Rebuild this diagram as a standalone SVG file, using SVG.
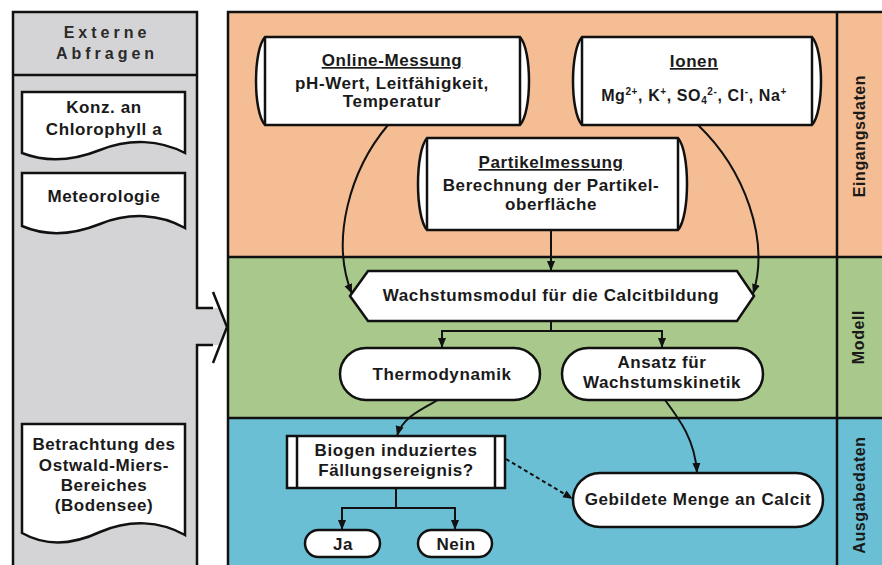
<svg xmlns="http://www.w3.org/2000/svg" width="882" height="565" viewBox="0 0 882 565">
<defs>
<style>
.node{fill:#fff;stroke:#111;stroke-width:2.5}
.ln{fill:none;stroke:#111;stroke-width:2.5}
.conn{fill:none;stroke:#111;stroke-width:2}
.t{font-family:"Liberation Sans",Arial,sans-serif;font-weight:bold;font-size:17px;letter-spacing:0.6px;fill:#1a1a1a;text-anchor:middle}
.lab{font-family:"Liberation Sans",Arial,sans-serif;font-weight:bold;font-size:16px;letter-spacing:0.6px;fill:#1a1a1a;text-anchor:middle}
.hdr{font-family:"Liberation Sans",Arial,sans-serif;font-weight:bold;font-size:16px;letter-spacing:4px;fill:#2a2a2a;text-anchor:middle}
.u{text-decoration:underline}
.sup{font-size:10px}
</style>
<marker id="ah" viewBox="0 0 10 10" refX="10" refY="5" markerWidth="10" markerHeight="10" markerUnits="userSpaceOnUse" orient="auto">
<path d="M0,1 L10,5 L0,9 Z" fill="#111"/>
</marker>
</defs>
<rect x="0" y="0" width="882" height="565" fill="#fff"/>

<g id="left-panel">
<rect x="13" y="12" width="184" height="560" fill="#d4d4d6"/>
<polygon points="197,308 219.4,308 227,327 219.4,345 197,345" fill="#d4d4d6"/>
<path class="ln" d="M13,565 V12 H197 V308 H213 M213,292 L227,327 L213,363 M213,345 H197 V565 M13,75 H197"/>
<text class="hdr" x="107" y="38">Externe</text>
<text class="hdr" x="107" y="59">Abfragen</text>
</g>

<g id="doc-chlorophyll">
<path class="node" d="M22,92 H185 V153 C160,140 130,138 100,150 C70,162 45,162 22,153 Z"/>
<text class="t" x="104" y="113">Konz. an</text>
<text class="t" x="104" y="135">Chlorophyll a</text>
</g>
<g id="doc-meteorologie">
<path class="node" d="M22,173 H185 V228 C160,214 130,212 100,224 C70,236 45,236 22,226 Z"/>
<text class="t" x="104" y="202">Meteorologie</text>
</g>
<g id="doc-ostwald">
<path class="node" d="M22,424 H185 V535 C160,521 130,519 100,532 C70,546 45,546 22,533 Z"/>
<text class="t" x="104" y="450">Betrachtung des</text>
<text class="t" x="104" y="471">Ostwald-Miers-</text>
<text class="t" x="104" y="491">Bereiches</text>
<text class="t" x="104" y="511">(Bodensee)</text>
</g>

<g id="lanes">
<rect x="228" y="12" width="654" height="245" fill="#f5bd93"/>
<rect x="228" y="257" width="654" height="161" fill="#a8c98b"/>
<rect x="228" y="418" width="654" height="150" fill="#6bbfd5"/>
<path class="ln" d="M882,12 H228 V565 M228,257 H882 M228,418 H882 M837,12 V565"/>
<text class="lab" transform="translate(865,136) rotate(-90)">Eingangsdaten</text>
<text class="lab" transform="translate(864,337) rotate(-90)">Modell</text>
<text class="lab" transform="translate(865,495) rotate(-90)">Ausgabedaten</text>
</g>

<g id="online-messung">
<path class="node" d="M265,37 H520 C532,50 532,112 520,125 H265 C253,112 253,50 265,37 Z"/>
<path class="ln" d="M265,37 V125 M520,37 V125"/>
<text class="t u" x="392" y="66">Online-Messung</text>
<text class="t" x="392" y="89">pH-Wert, Leitfähigkeit,</text>
<text class="t" x="392" y="107">Temperatur</text>
</g>

<g id="ionen">
<path class="node" d="M582,37 H812 C824,50 824,112 812,125 H582 C570,112 570,50 582,37 Z"/>
<path class="ln" d="M582,37 V125 M812,37 V125"/>
<text class="t u" x="694" y="67">Ionen</text>
<text class="t" x="694" y="101" style="font-size:16px">Mg<tspan class="sup" dy="-6">2+</tspan><tspan dy="6">, K</tspan><tspan class="sup" dy="-6">+</tspan><tspan dy="6">, SO</tspan><tspan class="sup" dy="3">4</tspan><tspan class="sup" dy="-9">2-</tspan><tspan dy="6">, Cl</tspan><tspan class="sup" dy="-6">-</tspan><tspan dy="6">, Na</tspan><tspan class="sup" dy="-6">+</tspan></text>
</g>

<g id="partikelmessung">
<path class="node" d="M427,138 H678 C690,152 690,216 678,230 H427 C415,216 415,152 427,138 Z"/>
<path class="ln" d="M427,138 V230 M678,138 V230"/>
<text class="t u" x="551" y="168">Partikelmessung</text>
<text class="t" x="551" y="191">Berechnung der Partikel-</text>
<text class="t" x="551" y="210">oberfläche</text>
</g>

<g id="wachstumsmodul">
<polygon class="node" points="368,271 737,271 754,296 737,321 368,321 350,296"/>
<text class="t" x="551" y="301">Wachstumsmodul für die Calcitbildung</text>
</g>

<g id="thermodynamik">
<rect class="node" x="340" y="348" width="200" height="52" rx="26"/>
<text class="t" x="442" y="380">Thermodynamik</text>
</g>

<g id="ansatz">
<rect class="node" x="562" y="348" width="201" height="52" rx="26"/>
<text class="t" x="662" y="368">Ansatz für</text>
<text class="t" x="662" y="388">Wachstumskinetik</text>
</g>

<g id="biogen">
<rect class="node" x="287" y="436" width="218" height="52"/>
<path class="ln" d="M297,436 V488 M495,436 V488"/>
<text class="t" x="396" y="456">Biogen induziertes</text>
<text class="t" x="396" y="476">Fällungsereignis?</text>
</g>

<g id="ja">
<rect class="node" x="305" y="530" width="75" height="27" rx="13.5"/>
<text class="t" x="343" y="550">Ja</text>
</g>
<g id="nein">
<rect class="node" x="418" y="530" width="74" height="27" rx="13.5"/>
<text class="t" x="456" y="550">Nein</text>
</g>

<g id="gebildete-menge">
<rect class="node" x="573" y="473" width="250" height="54" rx="27"/>
<text class="t" x="698" y="505">Gebildete Menge an Calcit</text>
</g>

<g id="connectors">
<path class="conn" d="M388,125 C350,170 330,240 352,294" marker-end="url(#ah)"/>
<path class="conn" d="M698,125 C745,170 770,240 753,294" marker-end="url(#ah)"/>
<path class="conn" d="M551,230 V271" marker-end="url(#ah)"/>
<path class="conn" d="M551,321 V331 H442 V348" marker-end="url(#ah)"/>
<path class="conn" d="M551,331 H662 V348" marker-end="url(#ah)"/>
<path class="conn" d="M438,400 C420,410 402,418 397,436" marker-end="url(#ah)"/>
<path class="conn" d="M665,400 C680,420 695,440 697,473" marker-end="url(#ah)"/>
<path class="conn" d="M506,459 L573,499" stroke-dasharray="4,3" marker-end="url(#ah)"/>
<path class="conn" d="M396,488 V508 H342 V530" marker-end="url(#ah)"/>
<path class="conn" d="M396,508 H455 V530" marker-end="url(#ah)"/>
</g>
</svg>
